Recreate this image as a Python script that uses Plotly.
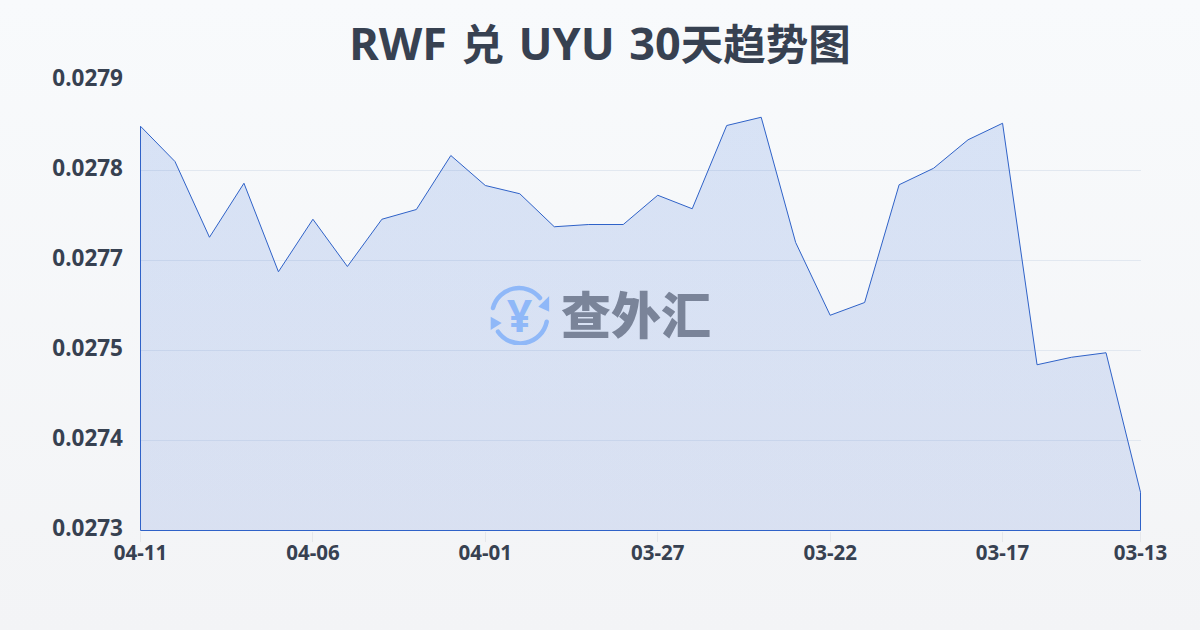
import base64
import re
import plotly.graph_objects as go

dates = ["04-11","04-10","04-09","04-08","04-07","04-06","04-05","04-04","04-03","04-02",
         "04-01","03-31","03-30","03-29","03-28","03-27","03-26","03-25","03-24","03-23",
         "03-22","03-21","03-20","03-19","03-18","03-17","03-16","03-15","03-14","03-13"]
rates = [0.027839,0.027792,0.027691,0.027763,0.027645,0.027715,0.027652,0.027715,0.027728,0.027800,
         0.027760,0.027749,0.027705,0.027708,0.027708,0.027747,0.027729,0.027840,0.027851,0.027684,
         0.027587,0.027604,0.027761,0.027783,0.027821,0.027843,0.027521,0.027531,0.027537,0.027351]
y_min = 0.0273
y_max = 0.0279
y_ticks = [0.0273,0.02742,0.02754,0.02766,0.02778,0.0279]
y_labels = ["0.0273","0.0274","0.0275","0.0277","0.0278","0.0279"]
x_tick_dates = ["04-11","04-06","04-01","03-27","03-22","03-17","03-13"]
title = "RWF 兑 UYU 30天趋势图"
watermark = "查外汇"

# plot box in pixels, half a pixel wider than the 1000x450 data area so edge lines land crisply
L, T, W, H = 140, 80, 1001, 451
x_pad = 0.5 * (len(dates) - 1) / 1000
y_pad = 0.5 * (y_max - y_min) / 450

def px(x):
    return (x - L) / W

def py(y):
    return 1 - (y - T) / H

def svg_uri(svg):
    return "data:image/svg+xml;base64," + base64.b64encode(svg.encode()).decode()

bg_svg = ('<svg xmlns="http://www.w3.org/2000/svg" width="1200" height="630">'
          '<defs><linearGradient id="g" x1="0" y1="0" x2="0" y2="1">'
          '<stop offset="0" stop-color="#f8fafc"/><stop offset="1" stop-color="#f3f4f6"/>'
          '</linearGradient></defs><rect width="1200" height="630" fill="url(#g)"/></svg>')

logo_svg = ('<svg xmlns="http://www.w3.org/2000/svg" width="60" height="60" viewBox="0 0 60 60">'
            '<g fill="none" stroke="#8fb8f8" stroke-width="4.5" stroke-linecap="round">'
            '<path d="M3.5 23 A27 27 0 0 1 50.5 13"/><path d="M57.2 36.7 A27 27 0 0 1 8.5 46.7"/></g>'
            '<g fill="#8fb8f8"><path d="M59.8 11 L59.8 26.7 L48.8 21.7 Z"/><path d="M1.2 31.7 L1.2 45 L12.2 38 Z"/></g>'
            '</svg>')

# the reference sets Latin larger than CJK and with slightly wider word gaps
title_markup = re.sub(r"[\u4e00-\u9fff]+", lambda m: f'<span style="font-size:42.5px">{m.group(0)}</span>', title)
title_markup = re.sub(r" (?![^<]*>)", '<span style="font-size:56px"> </span>', title_markup)

fig = go.Figure()
fig.add_trace(go.Scatter(
    x=dates + [dates[-1], dates[0], dates[0]],
    y=rates + [y_min, y_min, rates[0]],
    mode="lines",
    cliponaxis=False,
    line=dict(color="#2f62c8", width=1),
    fill="toself",
    fillgradient=dict(type="vertical",
                      colorscale=[[0, "rgba(37,88,205,0.13)"], [1, "rgba(37,99,215,0.15)"]]),
    hoverinfo="skip",
))
fig.update_layout(
    width=1200, height=630,
    margin=dict(l=L, r=1200 - L - W, t=T, b=630 - T - H),
    paper_bgcolor="rgba(0,0,0,0)",
    plot_bgcolor="rgba(0,0,0,0)",
    showlegend=False,
    font=dict(family="Noto Sans, Noto Sans CJK SC", color="#374151"),
    title=dict(text=f"<b>{title_markup}</b>", x=0.5, xanchor="center", y=0.929, yanchor="middle",
               font=dict(size=45, color="#374151", family="Noto Sans, Noto Sans CJK SC")),
    xaxis=dict(type="category", categoryorder="array", categoryarray=dates,
               range=[-x_pad, len(dates) - 1 + x_pad],
               tickmode="array", tickvals=x_tick_dates,
               ticktext=[f"<b>{d}</b>" for d in x_tick_dates],
               ticks="outside", ticklen=10, tickcolor="#e5e7eb", tickwidth=1, showgrid=False, zeroline=False,
               showline=False, tickfont=dict(size=20.5, color="#374151"), tickangle=0,
               ticklabelstandoff=-7),
    yaxis=dict(range=[y_min - y_pad, y_max + y_pad], tickmode="array", tickvals=y_ticks,
               ticktext=[f"<b>{t}</b>" for t in y_labels],
               showgrid=True, gridcolor="#e2e8f0", gridwidth=1, zeroline=False, showline=False,
               ticks="", ticklabelstandoff=16, ticklabelshift=-2, tickfont=dict(size=22.5, color="#374151")),
    images=[
        dict(source=svg_uri(bg_svg), xref="paper", yref="paper", x=px(0), y=py(0),
             sizex=1200 / W, sizey=630 / H, xanchor="left", yanchor="top", sizing="stretch", layer="below"),
        dict(source=svg_uri(logo_svg), xref="paper", yref="paper", x=px(489.5), y=py(285),
             sizex=60 / W, sizey=60 / H, xanchor="left", yanchor="top", sizing="stretch", layer="above"),
    ],
    annotations=[
        dict(text=watermark, xref="paper", yref="paper", x=px(636), y=py(312),
             showarrow=False, xanchor="center", yanchor="middle",
             font=dict(size=50, color="#7a8499", family="Noto Sans CJK SC", weight=900)),
        dict(text="<b>¥</b>", xref="paper", yref="paper", x=px(519.5), y=py(315),
             showarrow=False, xanchor="center", yanchor="middle",
             font=dict(size=44, color="#8fb8f8", family="Noto Sans")),
    ],
)
fig.write_html("out.html", config={"displayModeBar": False},
               post_script="document.body.style.margin='0';")
